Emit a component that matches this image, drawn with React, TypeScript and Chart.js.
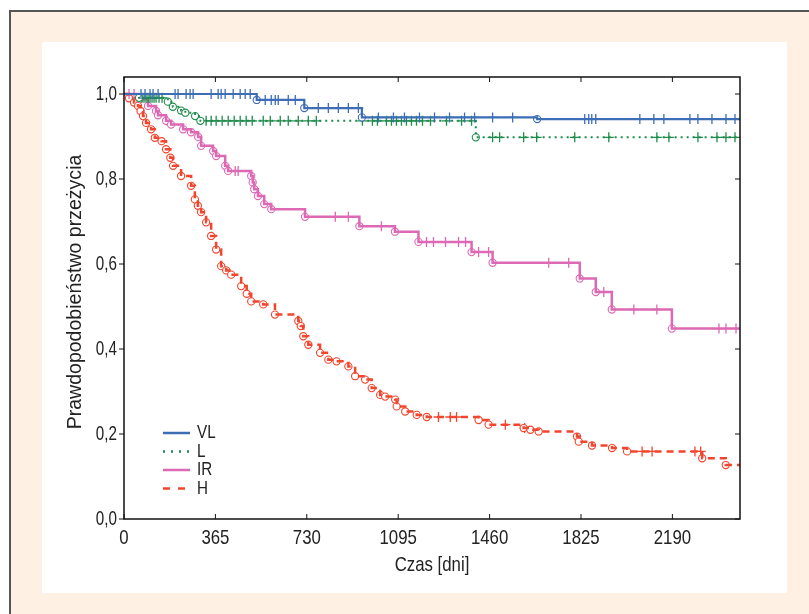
import React, { useEffect, useRef } from "react";
import { Chart, registerables } from "chart.js";

Chart.register(...registerables);

// ---- data (days, survival probability) ----
const X_TICKS = [0, 365, 730, 1095, 1460, 1825, 2190];
const Y_TICKS = [0, 0.2, 0.4, 0.6, 0.8, 1.0];
const X_MAX = 2460;
const Y_MAX = 1.04;
const X_TITLE = "Czas [dni]";
const Y_TITLE = "Prawdopodobieństwo przeżycia";

const VL_T = [0, 530, 720, 950, 1650];
const VL_S = [1, 0.986, 0.967, 0.945, 0.941];
const VL_CENSOR = [68, 84, 104, 116, 136, 204, 216, 248, 264, 276, 348, 376, 388, 404, 436, 464, 484, 504,
  564, 588, 604, 616, 656, 684, 776, 816, 856, 896, 936,
  1016, 1076, 1120, 1180, 1240, 1300, 1360, 1400, 1472, 1552,
  1840, 1856, 1868, 1884, 2060, 2116, 2156, 2260, 2292, 2348, 2404, 2440];

const L_T = [0, 60, 175, 195, 228, 245, 284, 305, 1405];
const L_S = [1, 0.991, 0.982, 0.970, 0.961, 0.956, 0.948, 0.937, 0.898];
const L_CENSOR = [72, 80, 88, 96, 104, 112, 120, 128, 140, 152,
  328, 348, 368, 392, 416, 440, 464, 488, 512, 556, 584, 624, 656, 696, 736, 768,
  952, 992, 1012, 1048, 1068, 1088, 1108, 1128, 1148, 1168, 1192, 1224, 1288, 1348, 1388,
  1472, 1500, 1596, 1648, 1800, 1936, 2128, 2176, 2292, 2368, 2404, 2440];

const IR_T = [0, 63, 96, 128, 136, 168, 188, 236, 268, 296, 308, 356, 368, 404, 416, 508, 514, 520, 535, 560, 588,
  723, 940, 1082, 1176, 1388, 1472, 1820, 1884, 1948, 2188];
const IR_S = [1, 0.988, 0.972, 0.960, 0.950, 0.937, 0.928, 0.917, 0.910, 0.899, 0.878, 0.866, 0.854, 0.831, 0.819,
  0.807, 0.792, 0.776, 0.760, 0.741, 0.729, 0.711, 0.689, 0.676, 0.652, 0.628, 0.603, 0.566, 0.534, 0.493, 0.448];
const IR_CENSOR = [20, 40, 172, 444, 456, 844, 896, 1028, 1208, 1236, 1284, 1336, 1364, 1416, 1456,
  1696, 1776, 1916, 2036, 2128, 2376, 2404, 2444];

const H_T = [0, 20, 40, 56, 66, 76, 88, 108, 123, 150, 168, 185, 196, 228, 268, 283, 295, 308, 328, 348, 368, 388,
  408, 428, 468, 490, 508, 556, 603, 696, 706, 716, 736, 783, 816, 849, 896, 923, 963, 989, 1023, 1043, 1083,
  1089, 1123, 1169, 1209, 1416, 1456, 1596, 1623, 1656, 1809, 1816, 1869, 1949, 2009, 2309, 2403];
const H_S = [1, 0.99, 0.98, 0.972, 0.96, 0.948, 0.932, 0.917, 0.897, 0.889, 0.870, 0.85, 0.831, 0.807, 0.784, 0.752,
  0.737, 0.722, 0.698, 0.666, 0.634, 0.595, 0.585, 0.575, 0.548, 0.53, 0.512, 0.505, 0.481, 0.466, 0.454, 0.430,
  0.410, 0.391, 0.375, 0.371, 0.359, 0.336, 0.328, 0.308, 0.292, 0.288, 0.281, 0.265, 0.253, 0.245, 0.240, 0.233,
  0.222, 0.214, 0.210, 0.206, 0.194, 0.182, 0.173, 0.167, 0.159, 0.143, 0.127];
const H_CENSOR = [1256, 1303, 1328, 1523, 1600, 2069, 2109, 2280, 2303];

const GROUPS = ["VL", "L", "IR", "H"];
const COLORS = ["#3d6db5", "#1e8c4b", "#dd69b4", "#f2452d"];

const FONT = "'Liberation Sans', Arial, sans-serif";
const TEXT = "#222";

function survAt(T: number[], S: number[], t: number) {
  let v = S[0];
  for (let i = 0; i < T.length; i++) if (T[i] <= t) v = S[i];
  return v;
}

function makeSeries(T: number[], S: number[], C: number[], color: string, dash: number[], width: number, label: string) {
  const line = T.map((t, i) => ({ x: t, y: S[i] }));
  line.push({ x: X_MAX, y: S[S.length - 1] });
  const events = T.slice(1).map((t, i) => ({ x: t, y: S[i + 1] }));
  const cens = C.map((t) => ({ x: t, y: survAt(T, S, t) }));
  return [
    {
      type: "line", label, data: line, stepped: "before", borderColor: color, borderWidth: width,
      borderDash: dash, pointRadius: 0, fill: false,
    },
    {
      type: "scatter", label: label + "-events", data: events, pointStyle: "circle", pointRadius: 3.6,
      pointBorderWidth: 1.1, pointBorderColor: color, pointBackgroundColor: "#ffffff", showLine: false,
    },
    {
      type: "scatter", label: label + "-cens", data: cens, pointStyle: "cross", pointRadius: 5,
      pointBorderWidth: 1.3, pointBorderColor: color, pointBackgroundColor: color, showLine: false,
    },
  ];
}

function drawText(ctx: CanvasRenderingContext2D, text: string, x: number, y: number, size: number,
  align: CanvasTextAlign, sx: number, rot = 0) {
  ctx.save();
  ctx.translate(x, y);
  if (rot) ctx.rotate(rot);
  ctx.scale(sx, 1);
  ctx.font = `${size}px ${FONT}`;
  ctx.fillStyle = TEXT;
  ctx.textAlign = align;
  ctx.textBaseline = "middle";
  ctx.fillText(text, 0, 0);
  ctx.restore();
}

const framePlugin = {
  id: "frame",
  afterDraw(chart: any) {
    const { ctx, chartArea: a, scales } = chart;
    ctx.save();
    ctx.strokeStyle = "#111";
    ctx.lineWidth = 1.5;
    ctx.strokeRect(a.left, a.top, a.right - a.left, a.bottom - a.top);
    ctx.lineWidth = 1;
    X_TICKS.forEach((v) => {
      const px = scales.x.getPixelForValue(v);
      ctx.beginPath();
      ctx.moveTo(px, a.bottom); ctx.lineTo(px, a.bottom - 5);
      ctx.moveTo(px, a.top); ctx.lineTo(px, a.top + 5);
      ctx.stroke();
      drawText(ctx, String(v), px, a.bottom + 19, 21, "center", 0.8);
    });
    Y_TICKS.forEach((v) => {
      const py = scales.y.getPixelForValue(v);
      ctx.beginPath();
      ctx.moveTo(a.right, py); ctx.lineTo(a.right - 5, py);
      ctx.moveTo(a.left, py); ctx.lineTo(a.left - 5, py);
      ctx.stroke();
      drawText(ctx, v.toFixed(1).replace(".", ","), a.left - 7, py, 20, "right", 0.76);
    });
    drawText(ctx, X_TITLE, (a.left + a.right) / 2, a.bottom + 46, 21, "center", 0.8);
    drawText(ctx, Y_TITLE, 33, (a.top + a.bottom) / 2 - 6, 21, "center", 0.93, -Math.PI / 2);
    // legend
    const dashes = [[], [2, 6], [], [7, 8]];
    GROUPS.forEach((g, i) => {
      const y = a.bottom - 86 + i * 18.5;
      ctx.strokeStyle = COLORS[i];
      ctx.lineWidth = 2.5;
      ctx.setLineDash(dashes[i]);
      ctx.beginPath();
      ctx.moveTo(a.left + 39, y); ctx.lineTo(a.left + 66, y);
      ctx.stroke();
      ctx.setLineDash([]);
      drawText(ctx, g, a.left + 73, y, 19, "left", 0.8);
    });
    ctx.restore();
  },
};

export default function App() {
  const ref = useRef<HTMLCanvasElement>(null);
  useEffect(() => {
    if (!ref.current) return;
    const datasets: any[] = [
      ...makeSeries(VL_T, VL_S, VL_CENSOR, COLORS[0], [], 2.2, "VL"),
      ...makeSeries(L_T, L_S, L_CENSOR, COLORS[1], [2, 4], 2, "L"),
      ...makeSeries(IR_T, IR_S, IR_CENSOR, COLORS[2], [], 2.5, "IR"),
      ...makeSeries(H_T, H_S, H_CENSOR, COLORS[3], [7, 5], 2.5, "H"),
    ];
    const chart = new Chart(ref.current, {
      type: "scatter",
      data: { datasets },
      plugins: [framePlugin],
      options: {
        animation: false,
        responsive: false,
        layout: { padding: { top: 35, right: 47, left: 0, bottom: 0 } },
        plugins: { legend: { display: false }, tooltip: { enabled: false } },
        scales: {
          x: {
            type: "linear", min: 0, max: X_MAX,
            afterFit: (s: any) => { s.height = 74; },
            afterBuildTicks: (s: any) => { s.ticks = X_TICKS.map((v) => ({ value: v })); },
            ticks: { display: false },
            grid: { display: false },
            border: { display: false },
            title: { display: false },
          },
          y: {
            type: "linear", min: 0, max: Y_MAX,
            afterFit: (s: any) => { s.width = 82; },
            afterBuildTicks: (s: any) => { s.ticks = Y_TICKS.map((v) => ({ value: v })); },
            ticks: { display: false },
            grid: { display: false },
            border: { display: false },
            title: { display: false },
          },
        },
      } as any,
    });
    return () => chart.destroy();
  }, []);

  return (
    <div style={{ position: "fixed", left: 0, top: 0, width: 809, height: 614, background: "#ffffff" }}>
      <div style={{ position: "absolute", left: 9, top: 10, width: 800, height: 604, boxSizing: "border-box", borderTop: "2px solid #555", borderLeft: "2px solid #555", background: "#fef0e2" }} />
      <div style={{ position: "absolute", left: 42, top: 42, width: 745, height: 551, background: "#ffffff" }}>
        <canvas ref={ref} width={745} height={551} style={{ display: "block", width: 745, height: 551 }} />
      </div>
    </div>
  );
}
